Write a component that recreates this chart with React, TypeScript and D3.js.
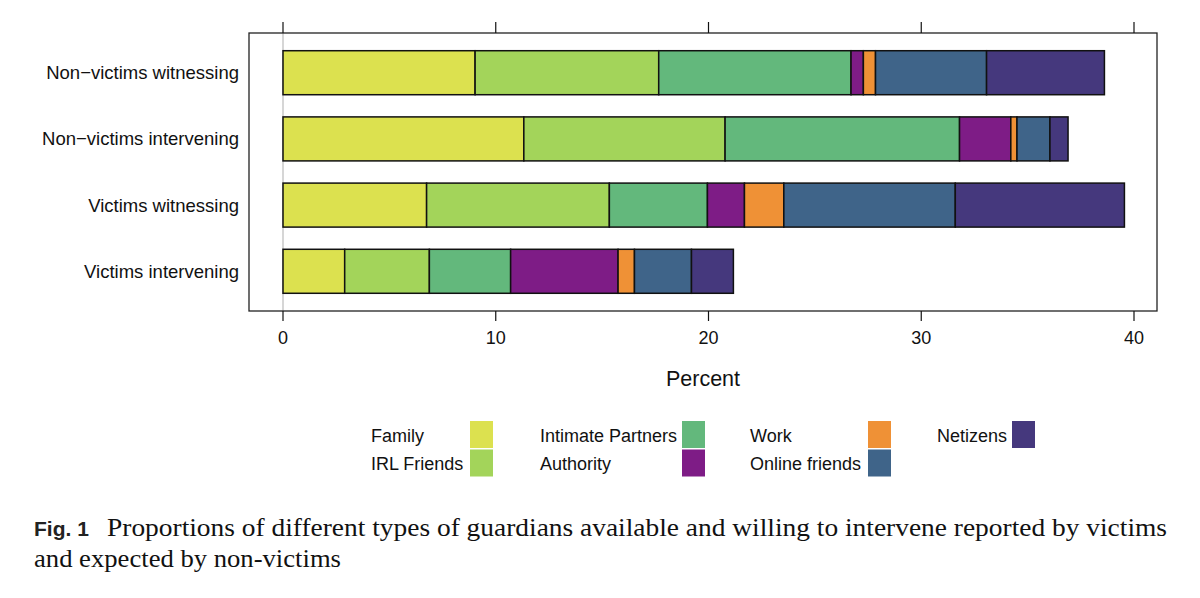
import * as d3 from "d3";

// rows of the chart, top to bottom
const rowLabels = [
  "Non\u2212victims witnessing",
  "Non\u2212victims intervening",
  "Victims witnessing",
  "Victims intervening",
];

// guardian types, in stacking order
const guardianTypes = [
  "Family",
  "IRL Friends",
  "Intimate Partners",
  "Authority",
  "Work",
  "Online friends",
  "Netizens",
];

const guardianColors = [
  "#dce14f",
  "#a3d45a",
  "#63b87c",
  "#7e1c86",
  "#ef9136",
  "#3f6489",
  "#45387d",
];

// percent per row (same order as rowLabels)
const family = [9.03, 11.32, 6.75, 2.9];
const irlFriends = [8.63, 9.46, 8.59, 3.98];
const intimatePartners = [9.04, 11.02, 4.61, 3.82];
const authority = [0.58, 2.41, 1.74, 5.05];
const work = [0.57, 0.29, 1.85, 0.77];
const onlineFriends = [5.22, 1.55, 8.06, 2.68];
const netizens = [5.54, 0.85, 7.95, 1.97];

const xTicks = [0, 10, 20, 30, 40];

const seriesValues = [family, irlFriends, intimatePartners, authority, work, onlineFriends, netizens];

const WIDTH = 1200;
const HEIGHT = 598;
const PANEL = { left: 249, right: 1157, top: 33, bottom: 311 };
const FONT = "'Liberation Sans', Arial, Helvetica, sans-serif";

// legend layout: 4 columns, 2 rows, filled column by column
const LEGEND_TEXT_X = [371, 540, 750, 937];
const LEGEND_SWATCH_X = [470, 682, 868, 1012];

const App = () => {
  const table = rowLabels.map((label, i) => {
    const row: Record<string, any> = { label };
    guardianTypes.forEach((g, j) => (row[g] = seriesValues[j][i]));
    return row;
  });

  const stacked = d3.stack<any>().keys(guardianTypes)(table);

  const xScale = d3.scaleLinear().domain([0, 40]).range([283, 1134]);

  // lattice style: factor levels at 1..n, limits padded by 0.6
  const yScale = d3
    .scaleLinear()
    .domain([0.4, rowLabels.length + 0.6])
    .range([PANEL.top, PANEL.bottom]);
  const barHeight = 44;

  const color = d3.scaleOrdinal<string, string>().domain(guardianTypes).range(guardianColors);

  const bars = stacked.map((series) => (
    <g key={series.key}>
      {series.map((d, i) => {
        const cy = yScale(i + 1);
        return (
          <rect
            key={i}
            x={xScale(d[0])}
            y={cy - barHeight / 2}
            width={xScale(d[1]) - xScale(d[0])}
            height={barHeight}
            fill={color(series.key)}
            stroke="#111"
            strokeWidth={1.5}
          />
        );
      })}
    </g>
  ));

  const ticks = xTicks.map((t) => (
    <g key={t}>
      <line x1={xScale(t)} x2={xScale(t)} y1={PANEL.bottom} y2={PANEL.bottom + 10} stroke="#111" strokeWidth={1.2} />
      <line x1={xScale(t)} x2={xScale(t)} y1={PANEL.top} y2={PANEL.top - 11} stroke="#111" strokeWidth={1.2} />
      <text x={xScale(t)} y={344} textAnchor="middle" fontSize={18} fontFamily={FONT} fill="#111">
        {t}
      </text>
    </g>
  ));

  const yLabels = rowLabels.map((label, i) => (
    <text
      key={label}
      x={239}
      y={yScale(i + 1)}
      dy="0.35em"
      textAnchor="end"
      fontSize={18.5}
      fontFamily={FONT}
      fill="#111"
    >
      {label}
    </text>
  ));

  const legend = guardianTypes.map((g, i) => {
    const col = Math.floor(i / 2);
    const row = i % 2;
    const top = 421 + row * 28.5;
    return (
      <g key={g}>
        <text x={LEGEND_TEXT_X[col]} y={top + 20.5} fontSize={18} fontFamily={FONT} fill="#111">
          {g}
        </text>
        <rect x={LEGEND_SWATCH_X[col]} y={top} width={23} height={27} fill={color(g)} />
      </g>
    );
  });

  return (
    <svg
      width={WIDTH}
      height={HEIGHT}
      style={{ position: "absolute", left: 0, top: 0, background: "#fff" }}
    >
      <rect x={0} y={0} width={WIDTH} height={HEIGHT} fill="#fff" />

      {/* reference line at zero */}
      <line x1={xScale(0)} x2={xScale(0)} y1={PANEL.top} y2={PANEL.bottom} stroke="#bbb" strokeWidth={1.2} />

      {bars}

      <rect
        x={PANEL.left}
        y={PANEL.top}
        width={PANEL.right - PANEL.left}
        height={PANEL.bottom - PANEL.top}
        fill="none"
        stroke="#222"
        strokeWidth={1.3}
      />
      {ticks}
      {yLabels}

      <text x={(PANEL.left + PANEL.right) / 2} y={386} textAnchor="middle" fontSize={21.5} fontFamily={FONT} fill="#111">
        Percent
      </text>

      {legend}

      {/* caption */}
      <text x={34} y={536} fontSize={21} fontWeight="bold" fontFamily="'Liberation Sans Narrow', 'Liberation Sans', sans-serif" fill="#222">
        Fig. 1
      </text>
      <text
        x={107}
        y={536}
        fontSize={25}
        fontFamily="'Liberation Serif', 'Times New Roman', serif"
        fill="#111"
        textLength={1060}
        lengthAdjust="spacingAndGlyphs"
      >
        Proportions of different types of guardians available and willing to intervene reported by victims
      </text>
      <text
        x={34}
        y={567}
        fontSize={25}
        fontFamily="'Liberation Serif', 'Times New Roman', serif"
        fill="#111"
        textLength={307}
        lengthAdjust="spacingAndGlyphs"
      >
        and expected by non-victims
      </text>
    </svg>
  );
};

export default App;
